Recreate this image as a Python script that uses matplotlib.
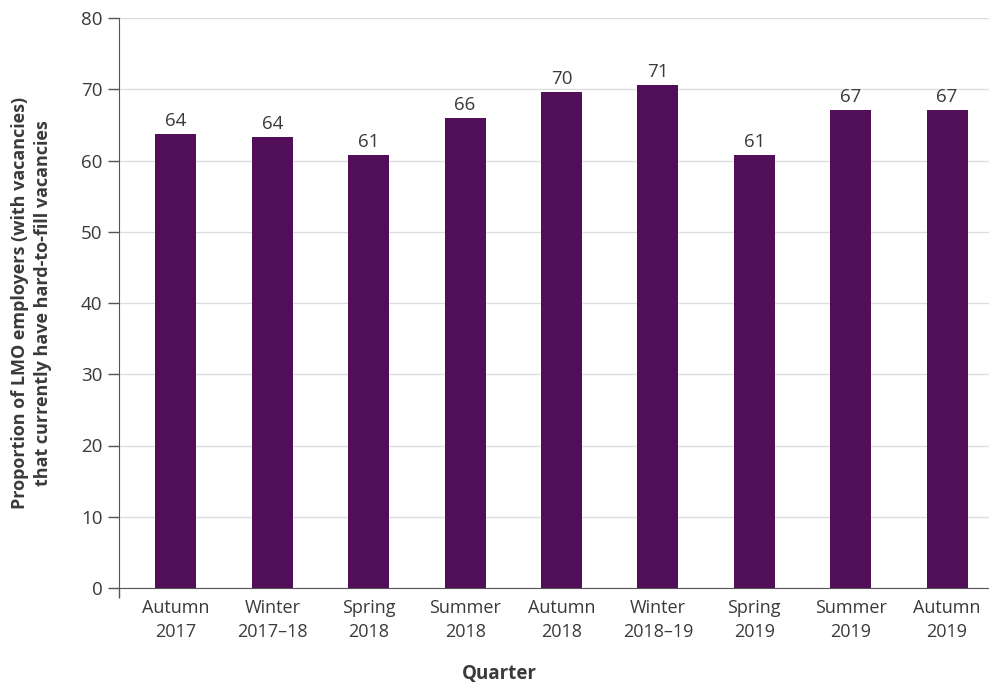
import numpy as np
import matplotlib
matplotlib.use("Agg")
import matplotlib.pyplot as plt

# data
quarters = ["Autumn\n2017", "Winter\n2017\u201318", "Spring\n2018", "Summer\n2018",
            "Autumn\n2018", "Winter\n2018\u201319", "Spring\n2019", "Summer\n2019",
            "Autumn\n2019"]
values = [63.7, 63.3, 60.8, 66.0, 69.6, 70.6, 60.8, 67.1, 67.1]
labels = ["64", "64", "61", "66", "70", "71", "61", "67", "67"]
yticks = [0, 10, 20, 30, 40, 50, 60, 70, 80]

plt.rcParams['font.family'] = ['Open Sans', 'DejaVu Sans']
textColor = "#3a3a3a"
barColor = "#520f59"
axisColor = "#555555"

fig = plt.figure(figsize=(9.89, 6.82), dpi=100)
ax = fig.add_axes([119 / 989, 1 - 588 / 682, 870 / 989, 570 / 682])

x = np.arange(len(quarters))
bars = ax.bar(x, values, width=0.425, color=barColor, zorder=3)
for b, lab in zip(bars, labels):
    ax.annotate(lab, (b.get_x() + b.get_width() / 2, b.get_height()),
                xytext=(0, 3), textcoords="offset points",
                ha="center", va="bottom", fontsize=13.5, color=textColor)

ax.set_xlim(-0.59, 8.435)
ax.set_ylim(0, 80)
ax.set_yticks(yticks)
ax.set_xticks(x)
ax.set_xticklabels(quarters, fontsize=13, color=textColor, linespacing=1.45)
ax.set_xticks([-0.59], minor=True)
ax.tick_params(axis="x", which="major", length=0, pad=8)
ax.tick_params(axis="x", which="minor", length=7, color=axisColor, width=1)
ax.tick_params(axis="y", labelsize=13.5, labelcolor=textColor, length=8,
               color=axisColor, width=1, pad=4)

ax.grid(axis="y", color="#dddddd", linewidth=1, zorder=0)
for s in ["top", "right"]:
    ax.spines[s].set_visible(False)
ax.spines["left"].set_color(axisColor)
ax.spines["bottom"].set_color(axisColor)
ax.spines["bottom"].set_zorder(4)

ax.set_ylabel("Proportion of LMO employers (with vacancies)\nthat currently have hard-to-fill vacancies",
              fontsize=13, fontweight="bold", color=textColor, labelpad=21,
              linespacing=1.35)
ax.set_xlabel("Quarter", fontsize=13.5, fontweight="bold", color=textColor, labelpad=16)
ax.xaxis.label.set_x((499 - 119) / 870)

fig.savefig("out.png", dpi=100)
